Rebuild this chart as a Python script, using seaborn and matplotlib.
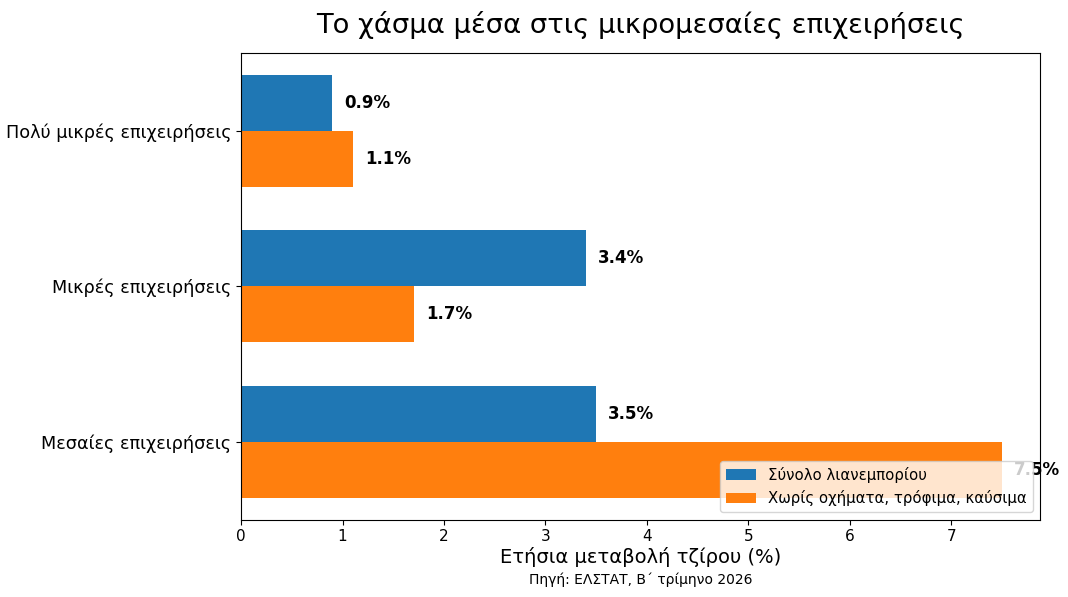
import matplotlib
matplotlib.use("Agg")
import matplotlib.pyplot as plt
import seaborn as sns
import pandas as pd

categories = ["Πολύ μικρές επιχειρήσεις", "Μικρές επιχειρήσεις", "Μεσαίες επιχειρήσεις"]
series_names = ["Σύνολο λιανεμπορίου", "Χωρίς οχήματα, τρόφιμα, καύσιμα"]
total_values = [0.9, 3.4, 3.5]
core_values = [1.1, 1.7, 7.5]

rows = []
for c, v in zip(categories, total_values):
    rows.append({"cat": c, "series": series_names[0], "value": v})
for c, v in zip(categories, core_values):
    rows.append({"cat": c, "series": series_names[1], "value": v})
df = pd.DataFrame(rows)

fig, ax = plt.subplots(figsize=(10.68, 5.97), dpi=100)
fig.subplots_adjust(left=0.2257, right=0.9738, top=0.9117, bottom=0.1295)

sns.barplot(data=df, y="cat", x="value", hue="series", order=categories,
            hue_order=series_names, palette=["#1f77b4", "#ff7f0e"],
            width=0.72, orient="h", ax=ax, saturation=1)

for container in ax.containers:
    for bar in container:
        w = bar.get_width()
        yc = bar.get_y() + bar.get_height() / 2
        ax.text(w + 0.12, yc, f"{w:.1f}%", va="center", ha="left",
                fontsize=12, fontweight="bold")

ax.set_ylim(2.5, -0.5)
ax.set_ylabel("")
ax.set_xlabel("Ετήσια μεταβολή τζίρου (%)", fontsize=14, labelpad=2)
ax.set_title("Το χάσμα μέσα στις μικρομεσαίες επιχειρήσεις", fontsize=19.7, pad=14)
ax.tick_params(axis="y", labelsize=12.7)
ax.tick_params(axis="x", labelsize=11)
ax.set_xlim(0, 7.875)
ax.legend(loc="lower right", fontsize=10.7, title=None)
ax.text(0.5, -0.128, "Πηγή: ΕΛΣΤΑΤ, Β΄ τρίμηνο 2026", transform=ax.transAxes,
        ha="center", va="center", fontsize=10)

fig.savefig("out.png", dpi=100)
